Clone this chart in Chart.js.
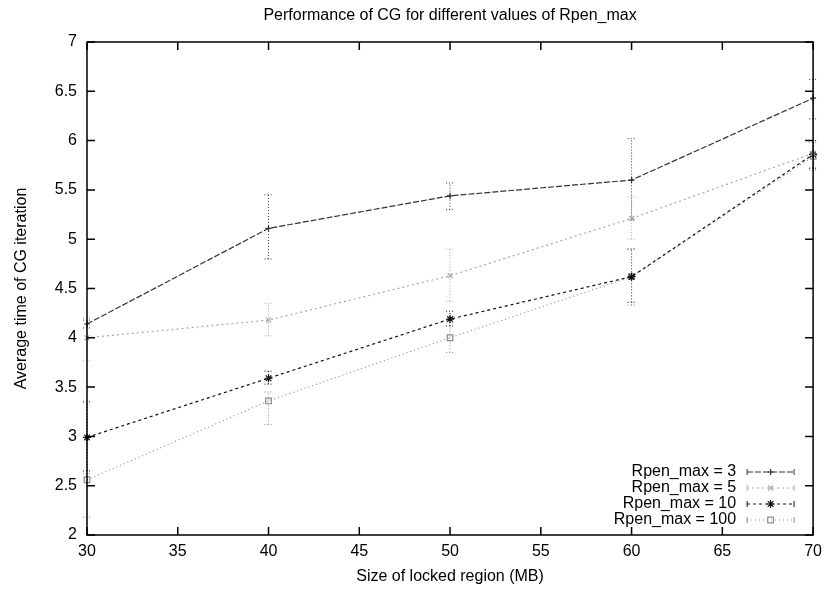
<!DOCTYPE html>
<html>
<head>
<meta charset="utf-8">
<script src="https://cdn.jsdelivr.net/npm/chart.js@4"></script>
<style>
  html, body { margin: 0; padding: 0; background: #fff; }
  #wrap { width: 829px; height: 589px; }
</style>
</head>
<body>
<div id="wrap"><canvas id="cgChart" width="829" height="589"></canvas></div>
<script>
// locked region sizes (MB)
const sizes = [30, 40, 50, 60, 70];
const xTicks = [30, 35, 40, 45, 50, 55, 60, 65, 70];
const yTicks = [2, 2.5, 3, 3.5, 4, 4.5, 5, 5.5, 6, 6.5, 7];

// average time per CG iteration, with error bar ends
const rpen3 = [4.14, 5.11, 5.44, 5.60, 6.43];
const rpen3Low = [4.10, 4.80, 5.30, 5.20, 6.22];
const rpen3High = [4.18, 5.45, 5.57, 6.02, 6.62];

const rpen5 = [4.00, 4.18, 4.63, 5.21, 5.87];
const rpen5Low = [3.77, 4.02, 4.37, 5.00, 5.72];
const rpen5High = [4.20, 4.35, 4.90, 5.43, 6.00];

const rpen10 = [2.99, 3.59, 4.19, 4.62, 5.86];
const rpen10Low = [2.65, 3.53, 4.12, 4.36, 5.72];
const rpen10High = [3.35, 3.66, 4.27, 4.90, 6.00];

const rpen100 = [2.56, 3.36, 4.00, 4.62, 5.84];
const rpen100Low = [2.18, 3.12, 3.85, 4.33, 5.70];
const rpen100High = [2.62, 3.45, 4.15, 4.90, 5.98];

const FONT = "'Liberation Sans', Arial, Helvetica, sans-serif";

function pts(vals) {
  return sizes.map((x, i) => ({ x: x, y: vals[i] }));
}

function series(label, vals, low, high, color, dash, style, radius) {
  return {
    label: label,
    data: pts(vals),
    errLow: low,
    errHigh: high,
    borderColor: color,
    backgroundColor: "rgba(0,0,0,0)",
    borderWidth: 1.2,
    borderDash: dash,
    pointStyle: style,
    pointRadius: radius,
    pointBorderColor: color,
    pointBorderWidth: 1.2,
    pointBackgroundColor: "rgba(0,0,0,0)",
    tension: 0,
    clip: false
  };
}

// gnuplot-like frame, inward ticks, error bars and legend
const gnuplotLook = {
  id: "gnuplotLook",
  beforeDatasetsDraw(chart) {
    const ctx = chart.ctx;
    const xs = chart.scales.x, ys = chart.scales.y;
    ctx.save();
    chart.data.datasets.forEach(ds => {
      ctx.strokeStyle = ds.borderColor;
      ctx.lineWidth = 1;
      ctx.setLineDash([1, 2]);
      sizes.forEach((x, i) => {
        const px = xs.getPixelForValue(x);
        const lo = ys.getPixelForValue(ds.errLow[i]);
        const hi = ys.getPixelForValue(ds.errHigh[i]);
        ctx.beginPath();
        ctx.moveTo(px, lo); ctx.lineTo(px, hi);
        ctx.moveTo(px - 4, lo); ctx.lineTo(px + 4, lo);
        ctx.moveTo(px - 4, hi); ctx.lineTo(px + 4, hi);
        ctx.stroke();
      });
    });
    ctx.restore();
  },
  afterDatasetsDraw(chart) {
    const ctx = chart.ctx;
    const a = chart.chartArea;
    const xs = chart.scales.x, ys = chart.scales.y;
    ctx.save();
    ctx.setLineDash([]);
    ctx.strokeStyle = "#000";
    ctx.lineWidth = 1.5;
    ctx.strokeRect(a.left, a.top, a.right - a.left, a.bottom - a.top);
    ctx.beginPath();
    xTicks.forEach(v => {
      const px = xs.getPixelForValue(v);
      ctx.moveTo(px, a.bottom); ctx.lineTo(px, a.bottom - 8);
      ctx.moveTo(px, a.top); ctx.lineTo(px, a.top + 8);
    });
    yTicks.forEach(v => {
      const py = ys.getPixelForValue(v);
      ctx.moveTo(a.left, py); ctx.lineTo(a.left + 8, py);
      ctx.moveTo(a.right, py); ctx.lineTo(a.right - 8, py);
    });
    ctx.stroke();

    // legend, bottom right
    const textRight = a.right - 77;
    const x0 = a.right - 66, x1 = a.right - 19;
    let y = a.bottom - 63;
    ctx.font = "16px " + FONT;
    ctx.textAlign = "right";
    ctx.textBaseline = "middle";
    chart.data.datasets.forEach(ds => {
      ctx.fillStyle = "#000";
      ctx.fillText(ds.label, textRight, y);
      ctx.strokeStyle = ds.borderColor;
      ctx.lineWidth = 1;
      ctx.setLineDash(ds.borderDash);
      ctx.beginPath();
      ctx.moveTo(x0, y); ctx.lineTo(x1, y);
      ctx.stroke();
      ctx.setLineDash([]);
      ctx.beginPath();
      ctx.moveTo(x0, y - 3); ctx.lineTo(x0, y + 3);
      ctx.moveTo(x1, y - 3); ctx.lineTo(x1, y + 3);
      ctx.stroke();
      ctx.fillStyle = "rgba(0,0,0,0)";
      ctx.lineWidth = 1.2;
      Chart.helpers.drawPoint(ctx, {
        pointStyle: ds.pointStyle,
        radius: ds.pointRadius,
        borderWidth: 1.2,
        rotation: 0
      }, (x0 + x1) / 2, y);
      y += 16;
    });
    ctx.restore();
  }
};

new Chart(document.getElementById("cgChart").getContext("2d"), {
  type: "line",
  data: {
    datasets: [
      series("Rpen_max = 3", rpen3, rpen3Low, rpen3High, "#333", [6, 2], "cross", 3),
      series("Rpen_max = 5", rpen5, rpen5Low, rpen5High, "#a8a8a8", [2, 3], "crossRot", 3.5),
      series("Rpen_max = 10", rpen10, rpen10Low, rpen10High, "#111", [3, 3], "star", 4),
      series("Rpen_max = 100", rpen100, rpen100Low, rpen100High, "#8c8c8c", [1, 3], "rect", 4)
    ]
  },
  options: {
    responsive: false,
    animation: false,
    layout: { padding: { left: 0, right: 13, top: 0, bottom: 0 } },
    plugins: {
      legend: { display: false },
      tooltip: { enabled: false },
      title: {
        display: true,
        text: "Performance of CG for different values of Rpen_max",
        fullSize: false,
        color: "#000",
        font: { family: FONT, size: 16, weight: "normal" },
        padding: { top: 6.4, bottom: 16.4 }
      }
    },
    scales: {
      x: {
        type: "linear",
        min: 30,
        max: 70,
        afterBuildTicks: s => { s.ticks = xTicks.map(v => ({ value: v })); },
        afterFit: s => { s.height = 54; },
        grid: { display: false, drawTicks: false },
        border: { display: false },
        ticks: { color: "#000", padding: 7, font: { family: FONT, size: 16 }, callback: v => String(v) },
        title: {
          display: true,
          text: "Size of locked region (MB)",
          color: "#000",
          font: { family: FONT, size: 16 },
          padding: { top: 0, bottom: 2.4 }
        }
      },
      y: {
        min: 2,
        max: 7,
        afterBuildTicks: s => { s.ticks = yTicks.map(v => ({ value: v })); },
        afterFit: s => { s.width = 87; },
        grid: { display: false, drawTicks: false },
        border: { display: false },
        ticks: { color: "#000", padding: 10, font: { family: FONT, size: 16 }, callback: v => String(v) },
        title: {
          display: true,
          text: "Average time of CG iteration",
          color: "#000",
          font: { family: FONT, size: 16 },
          padding: { top: 12.4, bottom: 0 }
        }
      }
    }
  },
  plugins: [gnuplotLook]
});
</script>
</body>
</html>
